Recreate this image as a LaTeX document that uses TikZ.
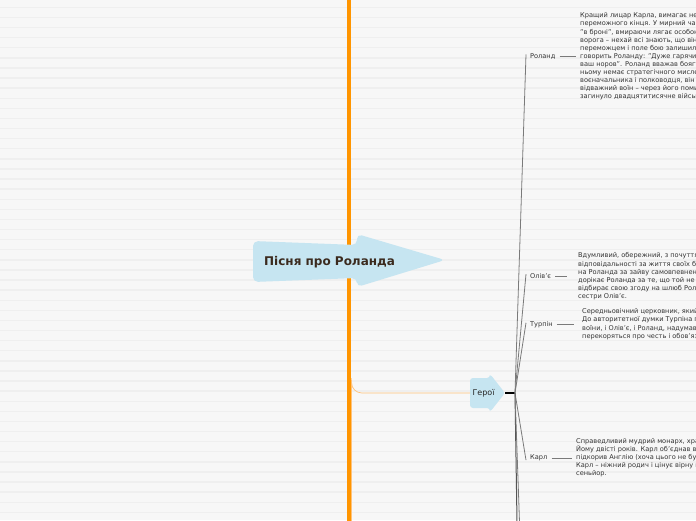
\documentclass[tikz,border=0pt]{standalone}
\usepackage{fontspec}
\setmainfont{DejaVu Sans}
\usetikzlibrary{calc}
\definecolor{bg}{HTML}{F7F7F7}
\definecolor{stripe}{HTML}{EFEFEF}
\definecolor{trunk}{HTML}{FF9500}
\definecolor{lorange}{HTML}{FFC27A}
\definecolor{nodeblue}{HTML}{C6E5F1}
\definecolor{txt}{HTML}{333333}
\definecolor{roottxt}{HTML}{3B2A1E}
\definecolor{fan}{HTML}{7A7A7A}
\tikzset{
  desc/.style={anchor=north west, inner sep=0pt, align=left, font=\fontsize{6.6}{8.1}\selectfont, text=txt},
  lbl/.style={anchor=base west, inner sep=0pt, font=\fontsize{6.6}{8}\selectfont, text=txt},
  fanline/.style={draw=fan, line width=0.8pt},
  tie/.style={draw=fan, line width=0.6pt},
  shapeblue/.style={fill=nodeblue, rounded corners=5pt},
}
\begin{document}
\begin{tikzpicture}[x=1pt,y=-1pt]
\useasboundingbox (0,0) rectangle (696,520);
\clip (0,0) rectangle (696,520);
\fill[bg] (0,0) rectangle (696,520);
\foreach \i in {0,...,51} \fill[stripe] (0,{6.6+10.1*\i}) rectangle (696,{8.0+10.1*\i});

% trunk
\draw[lorange, line width=0.5pt] (351.6,380) -- (351.6,522);
\draw[trunk, line width=4.6pt] (349,-2) -- (349,522);

% root node
\fill[shapeblue] (253,241) -- (357,245) -- (357,234) -- (445,260) -- (357,287) -- (357,278) -- (253,282) -- cycle;
\node[anchor=base west, inner sep=0pt, text=roottxt, font=\bfseries\fontsize{12}{14}\selectfont] (root) at (264,265.5) {Пісня про Роланда};

% heroes node
\fill[shapeblue, rounded corners=3pt] (470,378) -- (490,378) -- (490,374) -- (505,393) -- (490,412) -- (490,408) -- (470,408) -- cycle;
\node[inner sep=0pt, text=black!85, font=\fontsize{8}{9}\selectfont] (heroes) at (483.5,393.5) {Герої};
\coordinate (heroL) at (470,393);
\coordinate (heroTip) at (505,393);
\coordinate (hub) at (515,393);
\coordinate (trunkPt) at (351.6,378);

\draw[lorange, line width=0.7pt] (trunkPt) -- (351.6,383) to[out=-90,in=180] (362,393) -- (heroL);
\draw[black, line width=1.3pt] (heroTip) -- (hub);

% labels
\node[lbl] (rol) at (530,58.3) {Роланд};
\node[lbl] (oli) at (530,278.6) {Олів’є};
\node[lbl] (tur) at (530,326.6) {Турпін};
\node[lbl] (kar) at (530,459.8) {Карл};
\coordinate (down1) at (517,522);
\coordinate (down2) at (519.5,522);

\draw[fanline] (hub) -- ([xshift=-4pt,yshift=2pt]rol.west);
\draw[fanline] (hub) -- ([xshift=-4pt,yshift=2pt]oli.west);
\draw[fanline] (hub) -- ([xshift=-4pt,yshift=2pt]tur.west);
\draw[fanline] (hub) -- ([xshift=-4pt,yshift=-2pt]kar.west);
\draw[fanline, draw=fan!70!black, line width=1pt] (hub) -- (down1);
\draw[fanline] (hub) -- (down2);

% descriptions
\node[desc] (roltxt) at (580,12.6) {Кращий лицар Карла, вимагає негайно продовжувати\\
переможного кінця. У мирний час\\
"в броні", вмираючи лягає особою до\\
ворога – нехай всі знають, що він\\
переможцем і поле бою залишилося\\
говорить Роланду: "Дуже гарячий\\
ваш норов". Роланд вважав боягузтвом\\
ньому немає стратегічного мислення\\
воєначальника і полководця, він лише\\
відважний воїн – через його помилку\\
загинуло двадцятитисячне військо.};

\node[desc] (olitxt) at (578,252.6) {Вдумливий, обережний, з почуттям\\
відповідальності за життя своїх бійців,\\
на Роланда за зайву самовпевненість\\
дорікає Роланда за те, що той не скликав\\
відбирає свою згоду на шлюб Роланда з\\
сестри Олів’є.};

\node[desc] (turtxt) at (582,308.6) {Середньовічний церковник, який\\
До авторитетної думки Турпіна прислухаються\\
воїни, і Олів’є, і Роланд, надумав\\
перекоряться про честь і обов’язки};

\node[desc] (kartxt) at (576,438.2) {Справедливий мудрий монарх, хранитель\\
Йому двісті років. Карл об’єднав всі\\
підкорив Англію (хоча цього не було\\
Карл – ніжний родич і цінує вірну васальну\\
сеньйор.};

% ties label -> text
\draw[tie] ([xshift=4pt]rol.east) -- ($(rol.east -| roltxt.west)+(-4,0)$);
\draw[tie] ([xshift=4pt]oli.east) -- ($(oli.east -| olitxt.west)+(-11,0)$);
\draw[tie] ([xshift=4pt]tur.east) -- ($(tur.east -| turtxt.west)+(-8,0)$);
\draw[tie] ([xshift=4pt]kar.east) -- ($(kar.east -| kartxt.west)+(-4,0)$);
\end{tikzpicture}
\end{document}
